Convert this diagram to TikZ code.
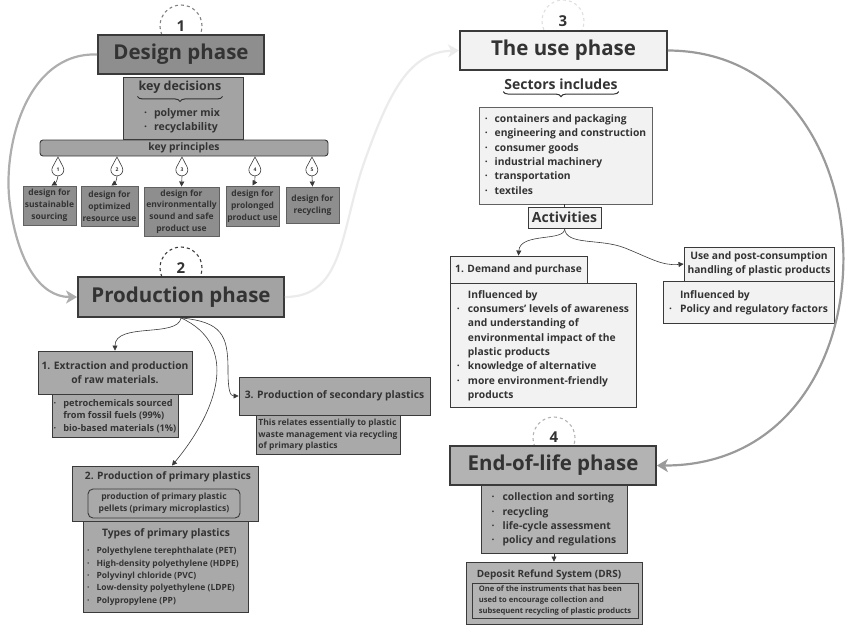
\documentclass[tikz,border=0pt]{standalone}
\usepackage{fontspec}
\setmainfont{Open Sans}
\usetikzlibrary{arrows.meta, positioning, decorations.pathreplacing}
\definecolor{ink}{HTML}{333333}
\definecolor{edge}{HTML}{3A3A3A}
\definecolor{greyA}{HTML}{8E8E8E}
\definecolor{greyB}{HTML}{A3A3A3}
\definecolor{greyC}{HTML}{A9A9A9}
\definecolor{greyD}{HTML}{B3B3B3}
\definecolor{paleA}{HTML}{F2F2F2}
\definecolor{flowgrey}{HTML}{9A9A9A}
\definecolor{flowpale}{HTML}{EBEBEB}
\tikzset{
  >={Triangle[width=5pt,length=5pt]},
  phase/.style = {rectangle, draw=edge, line width=1.8pt, text=ink, inner sep=0pt,
                  font=\fontsize{20.5}{24}\selectfont\bfseries},
  panel/.style = {rectangle, draw=edge, line width=0.9pt, text=ink, inner sep=0pt,
                  align=center, font=\fontsize{10.3}{14.3}\selectfont\bfseries},
  principle/.style = {panel, fill=greyA, draw=edge!80, font=\fontsize{8.5}{11.8}\selectfont\bfseries},
  ring/.style = {circle, dashed, line width=1.1pt, minimum size=42pt, inner sep=0pt,
                 text=ink, font=\fontsize{15}{15}\selectfont\bfseries},
  drop/.style = {circle, inner sep=0pt, minimum size=12pt, text=ink,
                 font=\fontsize{5}{5}\selectfont\bfseries},
  dropline/.style = {draw=edge, line width=0.6pt, fill=white},
  flow/.style = {line width=2.2pt, -{Stealth[length=11pt,width=13pt,inset=3pt]}},
  link/.style = {draw=edge, line width=0.6pt, ->},
  curly/.style = {decorate, draw=ink, line width=1pt,
                  decoration={brace, mirror, amplitude=5pt}},
}

\begin{document}
\begin{tikzpicture}[x=1pt, y=-1pt]
  \useasboundingbox (0,0) rectangle (848,625);

  % numbered rings behind the phases
  \node (n1) [ring, draw=gray] at (181,26) {1};
  \node (n2) [ring, draw=edge] at (181,268) {\raisebox{-3pt}{2}};
  \node (n3) [ring, draw=gray!25] at (563,21) {3};
  \node (n4) [ring, draw=gray!60] at (554,438) {\raisebox{2pt}{4}};

  % ---------- design phase ----------
  \node (design) [phase, fill=greyA, minimum width=166pt, minimum height=39pt] at (181,54.5) {Design phase};
  \node (kdec) [panel, fill=greyB, minimum width=120pt, minimum height=62pt] at (183,108) {};
  \node (kdtitle) [text=ink, inner sep=0pt, font=\fontsize{12.5}{15}\selectfont\bfseries] at (180,87) {key decisions};
  \draw[curly] ([xshift=-1pt,yshift=-3pt]kdtitle.south west) -- ([xshift=1pt,yshift=-3pt]kdtitle.south east);
  \node (kditems) [text=ink, inner sep=0pt, font=\fontsize{10.5}{14}\selectfont\bfseries] at (182,121)
    {\begin{tabular}{@{}l@{\hspace{7pt}}l@{}}·&polymer mix\\·&recyclability\end{tabular}};
  \node (kprin) [panel, fill=greyB, rounded corners=3pt, minimum width=288pt, minimum height=16pt,
                 font=\fontsize{10.3}{13}\selectfont\bfseries] at (184,148) {key principles};

  \node (s1) [principle, minimum width=53pt, minimum height=39pt] at (49.5,205.5) {design for\\sustainable\\sourcing};
  \node (s2) [principle, minimum width=57pt, minimum height=40pt] at (109.5,206) {design for\\optimized\\resource use};
  \node (s3) [principle, minimum width=75pt, minimum height=49pt] at (181.5,211.5) {design for\\environmentally\\sound and safe\\product use};
  \node (s4) [principle, minimum width=53pt, minimum height=40pt] at (252.5,206) {design for\\prolonged\\product use};
  \node (s5) [principle, minimum width=53pt, minimum height=36pt] at (312.5,205) {design for\\recycling};

  % drops between principles bar and boxes
  \node (d1) [drop] at (58,170) {};
  \node (d2) [drop] at (117,170) {};
  \node (d3) [drop] at (182,170) {};
  \node (d4) [drop] at (255,170) {};
  \node (d5) [drop] at (312,170) {};
  \draw[dropline] (58,157) -- (d1.152.5) arc[start angle=152.5, end angle=387.5, radius=6pt] -- cycle;
  \draw[dropline] (117,157) -- (d2.152.5) arc[start angle=152.5, end angle=387.5, radius=6pt] -- cycle;
  \draw[dropline] (182,157) -- (d3.152.5) arc[start angle=152.5, end angle=387.5, radius=6pt] -- cycle;
  \draw[dropline] (255,157) -- (d4.152.5) arc[start angle=152.5, end angle=387.5, radius=6pt] -- cycle;
  \draw[dropline] (312,157) -- (d5.152.5) arc[start angle=152.5, end angle=387.5, radius=6pt] -- cycle;
  \node at (d1) [drop] {1};
  \node at (d2) [drop] {2};
  \node at (d3) [drop] {3};
  \node at (d4) [drop] {4};
  \node at (d5) [drop] {5};
  \draw[link] (d1.south) to[bend left=25] ([xshift=2pt]s1.north);
  \draw[link] (d2.south) to[bend left=25] ([xshift=2pt]s2.north);
  \draw[link] (d3.south) -- (s3.north);
  \draw[link] (d4.south) to[bend left=15] (s4.north);
  \draw[link] (d5.south) -- (s5.north);

  % ---------- production phase ----------
  \node (prod) [phase, fill=greyB, minimum width=206pt, minimum height=40pt] at (181,297) {Production phase};

  \node (p1) [panel, fill=greyC, minimum width=154pt, minimum height=43pt,
              font=\fontsize{10.3}{14}\selectfont\bfseries] at (115,372.5) {1. Extraction and production\\of raw materials.};
  \node (p1s) [panel, fill=greyC, minimum width=126pt, minimum height=43pt,
               font=\fontsize{9.2}{12.4}\selectfont\bfseries, below=0pt of p1]
    {\begin{tabular}{@{}l@{\hspace{7pt}}l@{}}·&petrochemicals sourced\\&from fossil fuels (99\%)\\·&bio-based materials (1\%)\end{tabular}};

  \node (p3) [panel, fill=greyC, minimum width=191pt, minimum height=38pt,
              font=\fontsize{10.3}{14}\selectfont\bfseries] at (334.5,396) {3. Production of secondary plastics};
  \node (p3s) [panel, fill=greyC, minimum width=144pt, minimum height=39pt, anchor=north, align=left,
               font=\fontsize{8.5}{11.8}\selectfont\bfseries] at (328,415)
    {This relates essentially to plastic\\waste management via recycling\\of primary plastics};

  \node (p2) [panel, fill=greyC, minimum width=186pt, minimum height=55pt] at (165,493.5) {};
  \node (p2title) [text=ink, inner sep=0pt, font=\fontsize{10.2}{13}\selectfont\bfseries] at (168,477) {2. Production of primary plastics};
  \node (pellets) [panel, fill=greyC, rounded corners=5pt, minimum width=152pt, minimum height=29pt,
                   font=\fontsize{8.6}{12.2}\selectfont\bfseries] at (164,503.5)
    {production of primary plastic\\pellets (primary microplastics)};
  \node (p2s) [panel, fill=greyC, minimum width=165pt, minimum height=91pt, anchor=north] at (165.5,521) {};
  \node (types) [text=ink, inner sep=0pt, font=\fontsize{10.3}{13}\selectfont\bfseries] at (166,534) {Types of primary plastics};
  \node (typelist) [text=ink, inner sep=0pt, font=\fontsize{8.5}{12.3}\selectfont\bfseries, anchor=north west] at (87,545)
    {\begin{tabular}{@{}l@{\hspace{7pt}}l@{}}
      ·&Polyethylene terephthalate (PET)\\
      ·&High-density polyethylene (HDPE)\\
      ·&Polyvinyl chloride (PVC)\\
      ·&Low-density polyethylene (LDPE)\\
      ·&Polypropylene (PP)
    \end{tabular}};

  \draw[link] (prod.south) .. controls (178,338) and (115,322) .. (p1.north);
  \draw[link] (prod.south) .. controls (240,345) and (218,410) .. ([xshift=7pt]p2.north);
  \draw[link] (prod.south) .. controls (222,322) and (228,335) .. (228,370)
              .. controls (228,390) and (230,396) .. (p3.west);

  % ---------- use phase ----------
  \node (use) [phase, fill=paleA, minimum width=207pt, minimum height=39pt] at (563.5,50.5) {The use phase};
  \node (sectitle) [text=ink, inner sep=0pt, font=\fontsize{14}{16}\selectfont\bfseries] at (561,84) {Sectors includes};
  \draw[curly] ([xshift=-1pt,yshift=-2pt]sectitle.south west) -- ([xshift=1pt,yshift=-2pt]sectitle.south east);
  \node (sectors) [panel, fill=paleA, draw=edge!80, minimum width=173pt, minimum height=97pt] at (565.5,155.5)
    {\begin{tabular}{@{}l@{\hspace{7pt}}l@{}}
      ·&containers and packaging\\
      ·&engineering and construction\\
      ·&consumer goods\\
      ·&industrial machinery\\
      ·&transportation\\
      ·&textiles
    \end{tabular}};
  \node (act) [panel, fill=paleA, minimum width=73pt, minimum height=21pt,
               font=\fontsize{14}{16}\selectfont\bfseries] at (564.5,217.5) {Activities};
  \draw[edge, line width=0.6pt] (sectors.south -| act.north) -- (act.north);

  \node (demand) [panel, fill=paleA, minimum width=137pt, minimum height=27pt,
                  font=\fontsize{10.2}{13}\selectfont\bfseries] at (518.5,269.5) {1. Demand and purchase};
  \node (demands) [panel, fill=paleA, minimum width=186pt, minimum height=124pt, anchor=north] at (543,283)
    {\begin{tabular}{@{}l@{\hspace{8pt}}l@{}}
      &Influenced by\\
      ·&consumers’ levels of awareness\\
      &and understanding of\\
      &environmental impact of the\\
      &plastic products\\
      ·&knowledge of alternative\\
      ·&more environment-friendly\\
      &products
    \end{tabular}};
  \node (post) [panel, fill=paleA, minimum width=150pt, minimum height=34pt] at (759,264)
    {Use and post-consumption\\handling of plastic products};
  \node (posts) [panel, fill=paleA, minimum width=171pt, minimum height=42pt, anchor=north] at (748.5,281)
    {\begin{tabular}{@{}l@{\hspace{8pt}}l@{}}&Influenced by\\·&Policy and regulatory factors\end{tabular}};

  \draw[link] (act.south) .. controls (566,242) and (520,232) .. (demand.north);
  \draw[link] (act.south) .. controls (566,246) and (600,238) .. (625,248)
              .. controls (650,258) and (662,266) .. (post.west);

  % ---------- end-of-life phase ----------
  \node (eol) [phase, fill=greyD, minimum width=206pt, minimum height=39pt] at (553,465.5) {End-of-life phase};
  \node (eols) [panel, fill=greyD, minimum width=146pt, minimum height=68pt, anchor=north] at (554,485)
    {\begin{tabular}{@{}l@{\hspace{8pt}}l@{}}
      ·&collection and sorting\\
      ·&recycling\\
      ·&life-cycle assessment\\
      ·&policy and regulations
    \end{tabular}};
  \node (drs) [panel, fill=greyD, minimum width=176pt, minimum height=62pt] at (554,593) {};
  \node (drstitle) [text=ink, inner sep=0pt, font=\fontsize{10}{12}\selectfont\bfseries] at (549,575) {Deposit Refund System (DRS)};
  \node (drstext) [panel, fill=greyD, minimum width=166pt, minimum height=35pt, align=left,
                   font=\fontsize{7.6}{11.3}\selectfont\bfseries] at (555,600.5)
    {One of the instruments that has been\\used to encourage collection and\\subsequent recycling of plastic products};
  \draw[link] (eols.south) -- (drs.north);

  % ---------- lifecycle flows ----------
  \draw[flow, flowgrey!80] (design.west) .. controls (25,52) and (2,150) .. (10,205)
                           .. controls (18,262) and (40,297) .. (prod.west);
  \draw[flow, flowpale] (prod.east) .. controls (345,297) and (340,230) .. (365,160)
                        .. controls (390,90) and (410,52) .. (use.west);
  \draw[flow, flowgrey] (use.east) .. controls (900,51) and (905,466) .. (eol.east);
\end{tikzpicture}
\end{document}
